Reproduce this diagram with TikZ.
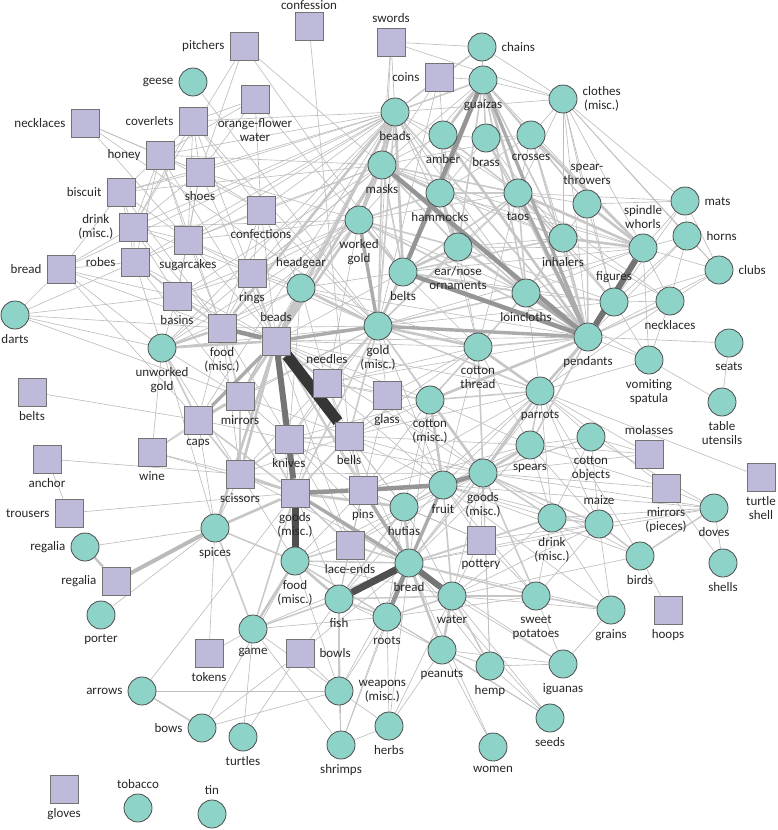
\documentclass[tikz,border=0pt]{standalone}
\usepackage{fontspec}
\setmainfont{Carlito}
\usetikzlibrary{backgrounds}
\definecolor{ct}{HTML}{8DD3C7}
\definecolor{cs}{HTML}{BEBADA}
\definecolor{ca}{HTML}{BEBEBE}
\definecolor{cb}{HTML}{CACACA}
\definecolor{cc}{HTML}{C6C6C6}
\definecolor{cd}{HTML}{ABABAB}
\definecolor{ce}{HTML}{959595}
\definecolor{cf}{HTML}{747474}
\definecolor{cg}{HTML}{505050}
\definecolor{ch}{HTML}{363636}
\tikzset{
  sq/.style={rectangle,minimum size=28pt,inner sep=0pt,fill=cs,draw=black!55,line width=0.8pt},
  ci/.style={circle,minimum size=28pt,inner sep=0pt,fill=ct,draw=black!70,line width=0.8pt},
  lab/.style={font=\fontsize{13}{14}\selectfont,text=black!85,align=center,inner sep=1.5pt},
  every label/.style={label distance=3.5pt},
  ea/.style={draw=ca,line width=0.65pt},
  eb/.style={draw=cb,line width=1.6pt},
  ec/.style={draw=cc,line width=2.6pt},
  ed/.style={draw=cd,line width=3.4pt},
  ee/.style={draw=ce,line width=4.5pt},
  ef/.style={draw=cf,line width=6pt},
  eg/.style={draw=cg,line width=7pt},
  eh/.style={draw=ch,line width=11pt},
}
\begin{document}
\begin{tikzpicture}[x=1pt,y=-1pt]
\useasboundingbox (0,0) rectangle (777,830);
% squares
\node[sq,label={[lab,label distance=0pt]above:confession}] (confession) at (309,26) {};
\node[sq,label={[lab]above:swords}] (swords) at (391,42) {};
\node[sq,label={[lab]left:pitchers}] (pitchers) at (244,46) {};
\node[sq,label={[lab]left:coins}] (coins) at (439,77) {};
\node[sq,label={[lab]below:orange-flower\\water}] (orangew) at (255,99) {};
\node[sq,label={[lab]left:necklaces}] (necklS) at (85,123) {};
\node[sq,label={[lab]left:coverlets}] (coverlets) at (193,121) {};
\node[sq,label={[lab]left:honey}] (honey) at (160,155) {};
\node[sq,label={[lab]below:shoes}] (shoes) at (200,172) {};
\node[sq,label={[lab]left:biscuit}] (biscuit) at (121,192) {};
\node[sq,label={[lab]left:drink\\(misc.)}] (drinkS) at (133,227) {};
\node[sq,label={[lab]below:confections}] (confections) at (261,210) {};
\node[sq,label={[lab]below:sugarcakes}] (sugarcakes) at (188,240) {};
\node[sq,label={[lab]left:robes}] (robes) at (135,262) {};
\node[sq,label={[lab]left:bread}] (breadS) at (61,269) {};
\node[sq,label={[lab]below:rings}] (rings) at (252,273) {};
\node[sq,label={[lab]below:basins}] (basins) at (177,296) {};
\node[sq,label={[lab]below:food\\(misc.)}] (foodS) at (222,328) {};
\node[sq,label={[lab]above:beads}] (beadsS) at (276,341) {};
\node[sq,label={[lab]above:needles}] (needles) at (327,383) {};
\node[sq,label={[lab]below:belts}] (beltsS) at (32,392) {};
\node[sq,label={[lab]below:mirrors}] (mirrors) at (240,396) {};
\node[sq,label={[lab]below:caps}] (caps) at (198,420) {};
\node[sq,label={[lab]below:glass}] (glass) at (387,395) {};
\node[sq,label={[lab]below:knives}] (knives) at (289,439) {};
\node[sq,label={[lab]below:bells}] (bells) at (349,436) {};
\node[sq,label={[lab]below:wine}] (wine) at (152,452) {};
\node[sq,label={[lab]below:anchor}] (anchor) at (47,459) {};
\node[sq,label={[lab]below:scissors}] (scissors) at (240,474) {};
\node[sq,label={[lab]below:goods\\(misc.)}] (goodsS) at (295,493) {};
\node[sq,label={[lab]below:pins}] (pins) at (363,490) {};
\node[sq,label={[lab]left:trousers}] (trousers) at (69,513) {};
\node[sq,label={[lab]left:regalia}] (regaliaS) at (116,581) {};
\node[sq,label={[lab]below:lace-ends}] (lace) at (350,545) {};
\node[sq,label={[lab]below:pottery}] (pottery) at (481,540) {};
\node[sq,label={[lab]below:tokens}] (tokens) at (209,653) {};
\node[sq,label={[lab]right:bowls}] (bowls) at (300,653) {};
\node[sq,label={[lab]below:gloves}] (gloves) at (64,789) {};
\node[sq,label={[lab]above:molasses}] (molasses) at (649,454) {};
\node[sq,label={[lab]below:mirrors\\(pieces)}] (mirrorsP) at (666,488) {};
\node[sq,label={[lab]below:turtle\\shell}] (turtleshell) at (761,477) {};
\node[sq,label={[lab]below:hoops}] (hoops) at (668,610) {};
% circles
\node[ci,label={[lab]left:geese}] (geese) at (193,82) {};
\node[ci,label={[lab]right:chains}] (chains) at (482,47) {};
\node[ci,label={[lab]below:guaízas}] (guaizas) at (483,80) {};
\node[ci,label={[lab]right:clothes\\(misc.)}] (clothes) at (563,99) {};
\node[ci,label={[lab]below:beads}] (beadsC) at (395,112) {};
\node[ci,label={[lab]below:amber}] (amber) at (443,135) {};
\node[ci,label={[lab]below:brass}] (brass) at (486,138) {};
\node[ci,label={[lab]below:crosses}] (crosses) at (531,135) {};
\node[ci,label={[lab]below:masks}] (masks) at (382,165) {};
\node[ci,label={[lab]below:hammocks}] (hammocks) at (440,193) {};
\node[ci,label={[lab]below:taos}] (taos) at (518,193) {};
\node[ci,label={[lab]above:spear-\\throwers}] (spearthr) at (587,204) {};
\node[ci,label={[lab]right:mats}] (mats) at (685,201) {};
\node[ci,label={[lab]above:spindle\\whorls}] (spindle) at (643,248) {};
\node[ci,label={[lab]right:horns}] (horns) at (687,236) {};
\node[ci,label={[lab]below:worked\\gold}] (workedgold) at (359,220) {};
\node[ci,label={[lab]below:ear/nose\\ornaments}] (earnose) at (458,247) {};
\node[ci,label={[lab]below:inhalers}] (inhalers) at (563,238) {};
\node[ci,label={[lab]right:clubs}] (clubs) at (719,270) {};
\node[ci,label={[lab]above:headgear}] (headgear) at (301,288) {};
\node[ci,label={[lab]below:belts}] (beltsC) at (403,272) {};
\node[ci,label={[lab]below:loincloths}] (loincloths) at (526,293) {};
\node[ci,label={[lab]above:figures}] (figures) at (614,302) {};
\node[ci,label={[lab]below:necklaces}] (necklC) at (670,301) {};
\node[ci,label={[lab]below:darts}] (darts) at (15,315) {};
\node[ci,label={[lab]below:gold\\(misc.)}] (goldmisc) at (378,326) {};
\node[ci,label={[lab]below:pendants}] (pendants) at (588,337) {};
\node[ci,label={[lab]below:cotton\\thread}] (cthread) at (478,347) {};
\node[ci,label={[lab]below:seats}] (seats) at (729,343) {};
\node[ci,label={[lab]below:unworked\\gold}] (unworked) at (162,348) {};
\node[ci,label={[lab]below:vomiting\\spatula}] (vomiting) at (649,360) {};
\node[ci,label={[lab]below:parrots}] (parrots) at (540,391) {};
\node[ci,label={[lab]below:cotton\\(misc.)}] (cmisc) at (430,400) {};
\node[ci,label={[lab]below:table\\utensils}] (tableu) at (722,402) {};
\node[ci,label={[lab]below:cotton\\objects}] (cobj) at (591,437) {};
\node[ci,label={[lab]below:spears}] (spears) at (530,445) {};
\node[ci,label={[lab]below:goods\\(misc.)}] (goodsC) at (483,473) {};
\node[ci,label={[lab]below:fruit}] (fruit) at (443,485) {};
\node[ci,label={[lab]below:hutias}] (hutias) at (404,507) {};
\node[ci,label={[lab]below:doves}] (doves) at (714,508) {};
\node[ci,label={[lab]below:drink\\(misc.)}] (drinkC) at (552,518) {};
\node[ci,label={[lab]above:maize}] (maize) at (599,524) {};
\node[ci,label={[lab]below:spices}] (spices) at (215,528) {};
\node[ci,label={[lab]left:regalia}] (regaliaC) at (85,547) {};
\node[ci,label={[lab]below:bread}] (breadC) at (409,563) {};
\node[ci,label={[lab]below:birds}] (birds) at (640,556) {};
\node[ci,label={[lab]below:food\\(misc.)}] (foodC) at (295,561) {};
\node[ci,label={[lab]below:shells}] (shells) at (723,563) {};
\node[ci,label={[lab]below:water}] (water) at (452,596) {};
\node[ci,label={[lab]below:sweet\\potatoes}] (sweetpot) at (536,596) {};
\node[ci,label={[lab]below:fish}] (fish) at (339,599) {};
\node[ci,label={[lab]below:grains}] (grains) at (611,610) {};
\node[ci,label={[lab]below:roots}] (roots) at (387,617) {};
\node[ci,label={[lab]below:porter}] (porter) at (101,615) {};
\node[ci,label={[lab]below:game}] (game) at (253,629) {};
\node[ci,label={[lab]below:peanuts}] (peanuts) at (442,650) {};
\node[ci,label={[lab]below:iguanas}] (iguanas) at (563,664) {};
\node[ci,label={[lab]below:hemp}] (hemp) at (490,666) {};
\node[ci,label={[lab]left:arrows}] (arrows) at (142,691) {};
\node[ci,label={[lab]right:weapons\\(misc.)}] (weapons) at (339,691) {};
\node[ci,label={[lab]below:herbs}] (herbs) at (389,726) {};
\node[ci,label={[lab]left:bows}] (bows) at (202,728) {};
\node[ci,label={[lab]below:turtles}] (turtles) at (243,737) {};
\node[ci,label={[lab]below:seeds}] (seeds) at (550,718) {};
\node[ci,label={[lab]below:shrimps}] (shrimps) at (341,745) {};
\node[ci,label={[lab]below:women}] (women) at (493,747) {};
\node[ci,label={[lab]above:tobacco}] (tobacco) at (138,808) {};
\node[ci,label={[lab]above:tin}] (tin) at (212,814) {};

\begin{scope}[on background layer]
% thin peripheral
\foreach \a/\b in {confession/bells,swords/clothes,swords/beadsC,swords/masks,swords/goldmisc,pitchers/masks,pitchers/shoes,pitchers/drinkS,pitchers/beltsC,geese/goldmisc,orangew/coverlets,orangew/shoes,orangew/beltsC,orangew/confections,orangew/honey,necklS/honey,necklS/shoes,necklS/goldmisc,necklS/beadsS,coverlets/shoes,coverlets/honey,coverlets/beadsC,coverlets/drinkS,coverlets/sugarcakes,coverlets/confections,coverlets/beadsS,coverlets/goldmisc,honey/biscuit,honey/drinkS,honey/shoes,honey/beadsC,honey/masks,honey/sugarcakes,honey/robes,honey/confections,honey/foodS,honey/beadsS,shoes/biscuit,shoes/drinkS,shoes/sugarcakes,shoes/beadsC,shoes/confections,shoes/beadsS,shoes/basins,shoes/workedgold,biscuit/drinkS,biscuit/breadS,biscuit/beadsC,biscuit/sugarcakes,biscuit/robes,biscuit/foodS,biscuit/masks,drinkS/breadS,drinkS/robes,drinkS/sugarcakes,drinkS/beadsC,drinkS/basins,drinkS/foodS,drinkS/workedgold,drinkS/rings,confections/beadsC,confections/sugarcakes,confections/rings,confections/masks,confections/foodS,confections/beadsS,confections/goldmisc,confections/headgear,sugarcakes/robes,sugarcakes/beadsC,sugarcakes/basins,sugarcakes/rings,sugarcakes/foodS,sugarcakes/masks,sugarcakes/workedgold,sugarcakes/headgear,robes/breadS,robes/basins,robes/beadsC,robes/foodS,robes/unworked,robes/beadsS,robes/mirrors,breadS/darts,breadS/basins,breadS/unworked,breadS/foodS,breadS/beadsC,breadS/caps,darts/robes,darts/basins,darts/unworked,darts/mirrors,darts/foodS,beltsS/caps,anchor/scissors,anchor/trousers,trousers/goodsS,wine/caps,wine/scissors,wine/unworked,wine/mirrors,wine/goodsS,regaliaC/spices,porter/spices,arrows/weapons,arrows/goodsS,bows/weapons,bows/foodC,turtles/bowls,turtles/game,tokens/spices,tokens/game,game/weapons,game/breadC,game/roots,bowls/weapons,bowls/fish,bowls/bows,bowls/breadC,shrimps/herbs,shrimps/weapons,shrimps/fish,shrimps/breadC,shrimps/game,shrimps/roots,herbs/breadC,herbs/roots,herbs/water,herbs/peanuts,herbs/weapons,women/peanuts,women/breadC,seeds/hemp,seeds/peanuts,seeds/water,seeds/breadC,seeds/roots,iguanas/hemp,iguanas/grains,iguanas/water,iguanas/breadC,iguanas/sweetpot,iguanas/peanuts,hemp/peanuts,hemp/breadC,hemp/cthread,hemp/goodsC,grains/water,grains/breadC,grains/maize,grains/fruit,hoops/birds,shells/mirrorsP,shells/doves,birds/water,birds/goodsC,birds/parrots,birds/fruit,doves/maize,doves/mirrorsP,doves/cobj,doves/goodsC,doves/drinkC,doves/breadC,doves/fruit,turtleshell/parrots,molasses/parrots,molasses/cobj,molasses/goodsC,molasses/spears,mirrorsP/goodsC,mirrorsP/parrots,mirrorsP/spears,seats/tableu,seats/pendants,tableu/vomiting,vomiting/pendants,vomiting/necklC,vomiting/figures,vomiting/spindle,vomiting/parrots,vomiting/loincloths,clubs/horns,clubs/mats,clubs/spindle,clubs/pendants,clubs/clothes,clubs/figures,clubs/necklC,mats/spearthr,mats/clothes,mats/spindle,mats/horns,mats/pendants,mats/taos,horns/spindle,horns/pendants,horns/clothes,horns/necklC,horns/figures,necklC/spindle,necklC/taos,necklC/parrots,necklC/inhalers,chains/guaizas,chains/clothes,chains/coins,chains/beadsC,chains/swords,coins/guaizas,coins/beadsC,coins/masks,coins/amber,coins/goldmisc,clothes/guaizas,clothes/crosses,clothes/spearthr,clothes/taos,clothes/inhalers,clothes/pendants,clothes/spindle,clothes/beadsC,clothes/figures}
  \draw[ea] (\a) -- (\b);
% thin central
\foreach \a/\b in {beadsC/amber,beadsC/rings,beadsC/headgear,beadsC/unworked,beadsC/mirrors,beadsC/caps,beadsC/taos,beadsC/loincloths,beadsC/earnose,masks/guaizas,masks/amber,masks/basins,masks/rings,masks/unworked,masks/headgear,masks/crosses,masks/inhalers,masks/spindle,workedgold/guaizas,workedgold/headgear,workedgold/rings,workedgold/basins,workedgold/foodS,workedgold/taos,workedgold/loincloths,workedgold/unworked,workedgold/mirrors,workedgold/needles,beltsC/hammocks,beltsC/beadsS,beltsC/headgear,beltsC/cthread,beltsC/spindle,beltsC/figures,goldmisc/mirrors,goldmisc/foodS,goldmisc/unworked,goldmisc/rings,goldmisc/knives,goldmisc/taos,goldmisc/hammocks,goldmisc/glass,goldmisc/spindle,goldmisc/figures,goldmisc/scissors,goldmisc/caps,goldmisc/fruit,goldmisc/goodsC,guaizas/spearthr,guaizas/spindle,guaizas/goldmisc,amber/brass,amber/earnose,brass/crosses,brass/inhalers,brass/hammocks,crosses/taos,crosses/spearthr,crosses/inhalers,crosses/hammocks,hammocks/inhalers,hammocks/spindle,hammocks/cthread,taos/spearthr,taos/earnose,taos/cthread,spearthr/inhalers,spearthr/figures,inhalers/figures,earnose/inhalers,earnose/spindle,earnose/cthread,earnose/figures,loincloths/spindle,loincloths/figures,loincloths/parrots,figures/necklC,pendants/headgear,pendants/beadsS,pendants/needles,pendants/goodsC,cthread/spears,cthread/beadsS,cthread/needles,cthread/glass,cthread/fruit,cthread/bells,cmisc/spears,cmisc/bells,cmisc/glass,cmisc/needles,cmisc/pins,cmisc/breadC,cmisc/hutias,cmisc/knives,parrots/cobj,parrots/fruit,parrots/drinkC,parrots/maize,parrots/bells,parrots/pins,parrots/breadC,parrots/hutias,spears/cobj,spears/fruit,spears/drinkC,spears/maize,spears/bells,spears/pins,spears/breadC,cobj/goodsC,cobj/maize,cobj/drinkC,cobj/fruit,goodsC/hutias,goodsC/water,goodsC/pottery,goodsC/bells,goodsC/glass,goodsC/knives,goodsC/scissors,goodsC/lace,fruit/drinkC,fruit/maize,fruit/pottery,fruit/sweetpot,fruit/roots,fruit/fish,fruit/bells,fruit/glass,hutias/water,hutias/roots,hutias/pins,hutias/bells,hutias/lace,hutias/foodC,drinkC/water,drinkC/pottery,drinkC/sweetpot,drinkC/grains,maize/water,maize/breadC,maize/sweetpot,maize/pottery,breadC/knives,breadC/bells,breadC/scissors,breadC/weapons,water/pottery,water/foodC,water/goodsS,fish/lace,fish/goodsS,fish/peanuts,fish/pins,roots/peanuts,roots/weapons,roots/lace,roots/sweetpot,foodC/pins,foodC/scissors,foodC/knives,foodC/weapons,goodsS/needles,goodsS/glass,beadsS/glass,beadsS/basins,beadsS/lace,beadsS/cmisc,beadsS/fruit,beadsS/hutias,beadsS/breadC,beadsS/foodC,beadsS/goodsC,beadsS/parrots,foodS/rings,foodS/caps,foodS/knives,foodS/headgear,foodS/scissors,unworked/basins,unworked/mirrors,unworked/scissors,unworked/spices,unworked/headgear,mirrors/knives,mirrors/bells,mirrors/headgear,caps/knives,caps/spices,scissors/spices,scissors/bells,knives/pins,bells/needles,bells/glass,needles/glass,needles/pins,needles/knives,glass/pins,pins/lace,lace/knives,headgear/rings,headgear/needles,headgear/mirrors,headgear/knives,headgear/cthread,rings/basins,pottery/sweetpot,pottery/pins,pottery/hutias}
  \draw[ea] (\a) -- (\b);
% medium light
\foreach \a/\b in {beadsC/goldmisc,beadsC/guaizas,beadsC/hammocks,beadsC/pendants,masks/goldmisc,masks/beltsC,masks/taos,masks/earnose,masks/loincloths,workedgold/pendants,workedgold/earnose,workedgold/hammocks,beltsC/loincloths,beltsC/taos,beltsC/inhalers,goldmisc/loincloths,goldmisc/earnose,goldmisc/cmisc,goldmisc/needles,goldmisc/bells,goldmisc/goodsS,goldmisc/parrots,guaizas/brass,guaizas/crosses,guaizas/hammocks,guaizas/earnose,guaizas/inhalers,guaizas/loincloths,amber/hammocks,amber/taos,brass/taos,brass/pendants,crosses/pendants,hammocks/taos,hammocks/loincloths,taos/inhalers,taos/loincloths,taos/figures,spearthr/pendants,inhalers/pendants,inhalers/loincloths,earnose/loincloths,loincloths/cthread,pendants/cthread,pendants/figures,pendants/necklC,pendants/spears,cthread/cmisc,cthread/goodsC,cmisc/parrots,parrots/spears,parrots/goodsC,goodsC/breadC,goodsC/drinkC,fruit/water,fruit/hutias,hutias/fish,breadC/lace,breadC/foodC,breadC/pottery,breadC/sweetpot,breadC/drinkC,water/roots,water/fish,fish/roots,foodC/lace,foodC/roots,goodsS/lace,goodsS/bells,goodsS/caps,goodsS/mirrors,beadsS/knives,beadsS/needles,beadsS/pins,beadsS/headgear,beadsS/rings,foodS/mirrors,foodS/basins,unworked/caps,mirrors/scissors,knives/bells,caps/scissors,scissors/knives,bells/pins,goodsC/maize,goodsC/sweetpot,drinkC/maize,maize/birds,doves/birds,sweetpot/grains,water/hemp,game/fish,game/goodsS,weapons/fish,spices/foodC,spices/game,arrows/bows}
  \draw[eb] (\a) -- (\b);
% light thick
\foreach \a/\b in {masks/workedgold,beadsC/masks,beadsC/workedgold,beadsC/foodS,beadsC/beadsS,beadsS/mirrors,beadsS/scissors,beadsS/spices,beadsS/unworked,goldmisc/beltsC,goldmisc/cthread,goldmisc/headgear,pendants/cmisc,pendants/parrots,cthread/parrots,taos/spindle,inhalers/spindle,earnose/pendants,hammocks/earnose,amber/pendants,crosses/spindle,spearthr/spindle,masks/hammocks,guaizas/taos,guaizas/amber,beltsC/earnose,workedgold/beltsC,goodsS/scissors,goodsS/knives,foodC/fish,goodsS/hutias,breadC/hutias,water/peanuts,breadC/peanuts,water/sweetpot,goodsC/parrots,goodsC/spears,goodsC/cmisc,fruit/cmisc,game/foodC,regaliaC/regaliaS,goodsS/spices,unworked/foodS,caps/mirrors,masks/beadsS,workedgold/beadsS,beadsC/beltsC,headgear/beadsS}
  \draw[ec] (\a) -- (\b);
\draw[draw=black!27,line width=4pt] (regaliaS) -- (spices);
% darker thick
\foreach \a/\b in {goldmisc/pendants,taos/pendants,guaizas/pendants,goldmisc/workedgold,beadsS/goldmisc,loincloths/pendants,fruit/breadC,pins/breadC,goodsS/breadC,beadsS/caps}
  \draw[ed] (\a) -- (\b);
\foreach \a/\b in {beltsC/pendants,masks/pendants,guaizas/beltsC,breadC/roots,fruit/goodsC,goodsS/pins,pins/fruit,beadsS/foodS}
  \draw[ee] (\a) -- (\b);
\foreach \a/\b in {beadsS/goodsS,spindle/pendants,breadC/water}
  \draw[ef] (\a) -- (\b);
\foreach \a/\b in {breadC/fish,goodsS/foodC}
  \draw[eg] (\a) -- (\b);
\draw[eh] (beadsS) -- (bells);
\end{scope}
\end{tikzpicture}
\end{document}
